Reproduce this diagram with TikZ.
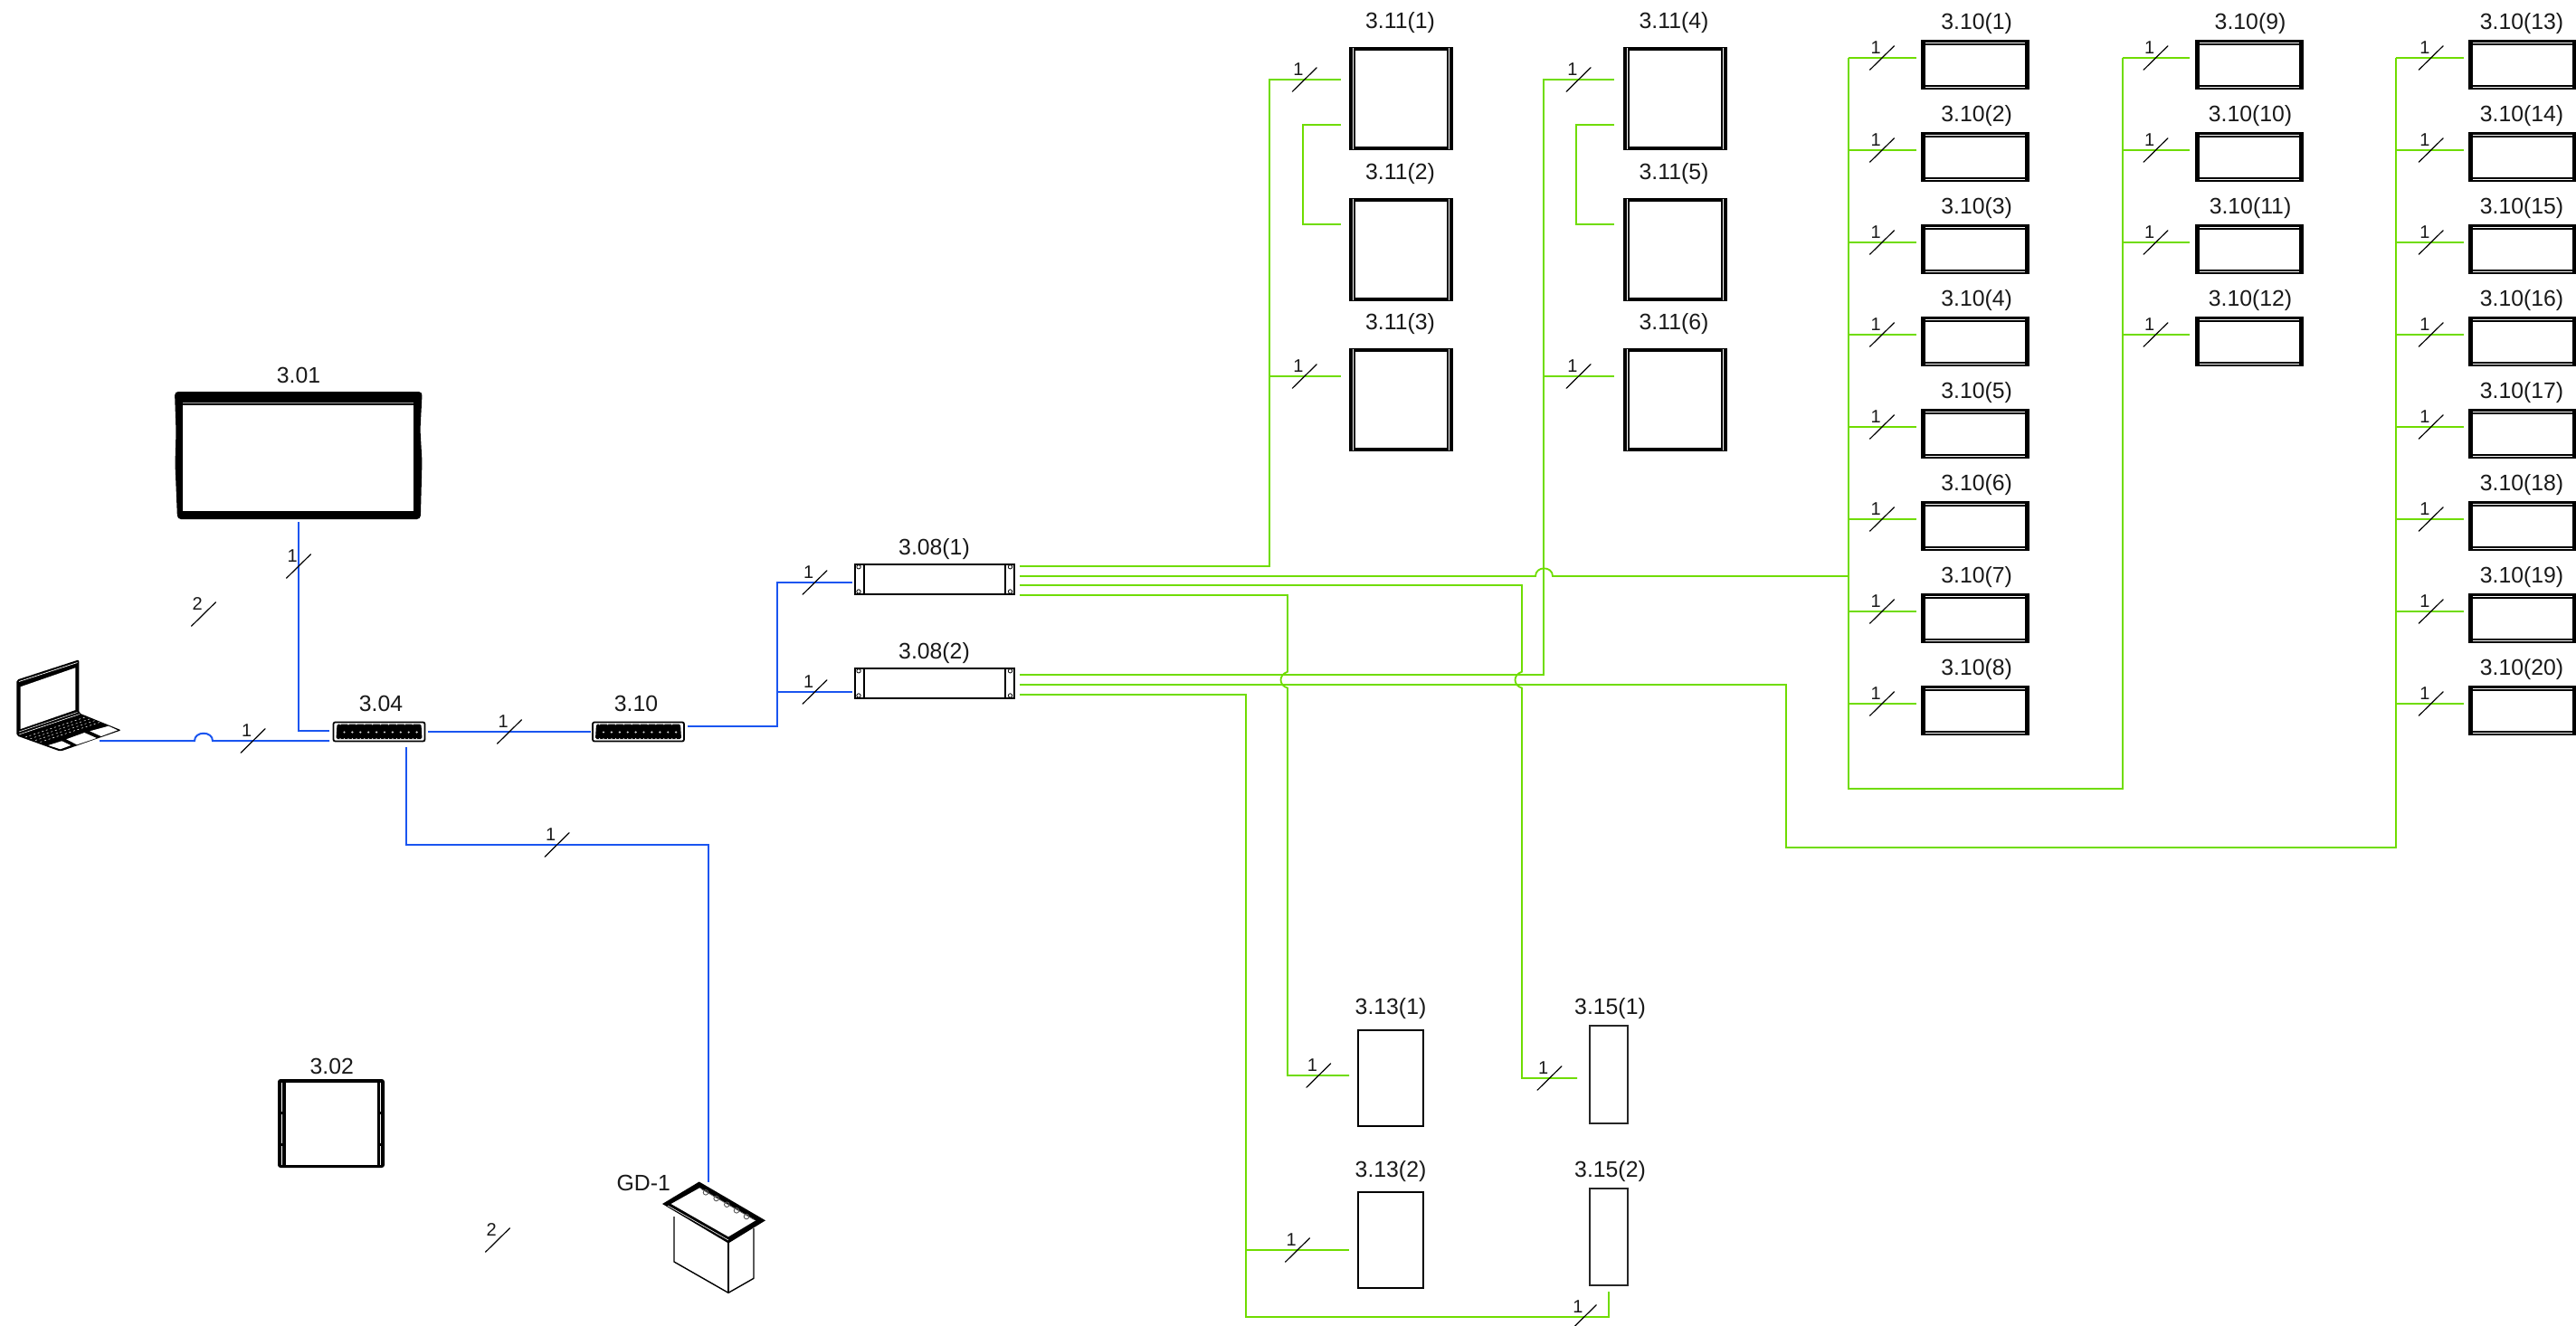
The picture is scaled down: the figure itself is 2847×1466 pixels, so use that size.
\documentclass[tikz,border=0pt]{standalone}
\usepackage{fontspec}
\setmainfont{Liberation Sans}
\usetikzlibrary{fit}
\definecolor{gline}{HTML}{6FDC00}
\definecolor{bline}{HTML}{1A55F0}
\tikzset{
  greenwire/.style={draw=gline,line width=0.9pt,line join=miter},
  bluewire/.style={draw=bline,line width=1pt,line join=miter},
  slashline/.style={draw=black,line width=0.6pt,line cap=round},
  biglab/.style={font=\fontsize{12.4}{13}\selectfont,inner sep=0pt,text=black!90},
  smalllab/.style={font=\fontsize{10}{11}\selectfont,inner sep=0pt,text=black!90},
  solidbox/.style={inner sep=0pt,fill=black},
  plainbox/.style={inner sep=0pt,draw=black,fill=white},
}
\newcounter{tk}
% slash mark with its count
\newcommand\wtick[3]{\stepcounter{tk}%
  \draw[slashline] ({#1-13.5},{#2+13.3}) -- ({#1+13.5},{#2-13.3});
  \node[smalllab] (tl\arabic{tk}) at ({#1-6.8},{#2-11.5}) {#3};}
% black solid frame with a white opening
\newcommand\blackdev[9]{%
  \node[solidbox,fit={(#2,#3)(#4,#5)}] (#1) {};
  \fill[white] (#6,#7) rectangle (#8,#9);}
% loudspeaker of the 3.10 family: number, row, bus x, stub x, tick x, box left, label x
\newcommand\tenrow[7]{%
  \pgfmathsetmacro\ry{64+102*#2}
  \pgfmathsetmacro\rt{44+102*#2}
  \pgfmathsetmacro\rb{99+102*#2}
  \pgfmathsetmacro\bl{#6}
  \pgfmathsetmacro\br{#6+120}
  \coordinate (bus#1) at (#3,\ry);
  \coordinate (end#1) at (#4,\ry);
  \draw[greenwire] (bus#1) -- (end#1);
  \wtick{#5}{\ry}{1}
  \blackdev{sp#1}{\bl}{\rt}{\br}{\rb}{\bl+5}{\rt+6}{\br-5}{\rb-5}
  \draw[white,line width=0.5pt] (\bl+5,\rt+3.5) -- (\br-5,\rt+3.5);
  \draw[white,line width=0.5pt] (\bl+5,\rb-2.5) -- (\br-5,\rb-2.5);
  \node[biglab] (lsp#1) at (#7,{\rt-18}) {3.10(#1)};}
% square loudspeaker of the 3.11 family
\newcommand\squarebox[4]{%
  \pgfmathsetmacro\st{#3}
  \pgfmathsetmacro\sb{#3+114}
  \blackdev{sq#1}{#2}{\st}{#2+115}{\sb}{#2+7}{\st+4}{#2+108}{\sb-4}
  \draw[white,line width=0.25pt] (#2+4.5,\st+1) -- (#2+4.5,\sb-1);
  \draw[white,line width=0.25pt] (#2+110.5,\st+1) -- (#2+110.5,\sb-1);
  \node[biglab] (lsq#1) at (#4,{\st-27}) {3.11(#1)};}
% amplifier 3.08
\newcommand\ampbox[3]{%
  \node[plainbox,line width=0.6pt,fit={(945,#2)(1121,#2+33)}] (#1) {};
  \draw[line width=0.9pt] (955,#2) -- (955,#2+33);
  \draw[line width=0.9pt] (1111,#2) -- (1111,#2+33);
  \foreach \sx in {949,1116.5}{
    \draw[line width=0.4pt] (\sx,#2+2.8) circle (1.1pt);
    \draw[line width=0.4pt] (\sx,#2+30) circle (1.1pt);}
  \node[biglab] (l#1) at (1032.5,#2-17.3) {#3};}
% network switch
\newcommand\switchbox[2]{%
  \node[plainbox,line width=0.9pt,rounded corners=1pt,fit={(#2,798.5)(#2+101,819.5)}] (#1) {};
  \fill[black,rounded corners=0.8pt] (#2+4,800.5) -- (#2+97,800.5) -- (#2+98,817) -- (#2+3,817) -- cycle;
  \foreach \k in {0,...,9}{
    \fill[white!85!black] ({#2+12+\k*8.9},809.5) circle (0.6pt);
    \fill[white] ({#2+12+\k*8.9},816.8) circle (0.35pt);
    \fill[white] ({#2+7.6+\k*8.9},816.8) circle (0.35pt);
    \fill[white] ({#2+7.6+\k*8.9},800.6) circle (0.45pt);}
}
\begin{document}
\begin{tikzpicture}[x=0.5pt,y=-0.5pt]
\clip (0,0) rectangle (2847,1466);
\fill[white] (0,0) rectangle (2847,1466);

% ---------- named connector ends
\coordinate (lap) at (110,819);
\coordinate (swA) at (364,819);
\coordinate (swB) at (364,808);
\coordinate (dispEnd) at (330,577);
\coordinate (swOut) at (473,809);
\coordinate (swIn) at (653,809);
\coordinate (swC) at (760,803);
\coordinate (swD) at (449,826);
\coordinate (gdEnd) at (783,1307);
\coordinate (ampIn1) at (942,644);
\coordinate (ampIn2) at (942,765);
\coordinate (o11) at (1127,626);
\coordinate (o12) at (1127,637);
\coordinate (o13) at (1127,647);
\coordinate (o14) at (1127,658);
\coordinate (o21) at (1127,746);
\coordinate (o22) at (1127,757);
\coordinate (o23) at (1127,768);
\coordinate (a1) at (1482,88);
\coordinate (a1b) at (1482,138);
\coordinate (a2) at (1482,248);
\coordinate (a3) at (1482,416);
\coordinate (b1) at (1784,88);
\coordinate (b1b) at (1784,138);
\coordinate (b2) at (1784,248);
\coordinate (b3) at (1784,416);
\coordinate (c1) at (1491,1189);
\coordinate (c2) at (1491,1382);
\coordinate (e1) at (1743,1192);
\coordinate (e2) at (1778,1428);

% ---------- blue wiring
\draw[bluewire] (lap) -- (215,819) .. controls (215,808) and (235,808) .. (235,819) -- (swA);
\draw[bluewire] (dispEnd) |- (swB);
\draw[bluewire] (swOut) -- (swIn);
\draw[bluewire] (swC) -- (859,803) -- (859,644) -- (ampIn1);
\draw[bluewire] (859,765) -- (ampIn2);
\draw[bluewire] (swD) |- (783,934) -- (gdEnd);

% ---------- green wiring
\draw[greenwire] (o11) -| (1403,88) -- (a1);
\draw[greenwire] (1403,416) -- (a3);
\draw[greenwire] (a1b) -- (1440,138) -- (1440,248) -- (a2);
\draw[greenwire] (o21) -| (1706,88) -- (b1);
\draw[greenwire] (1706,416) -- (b3);
\draw[greenwire] (b1b) -- (1742,138) -- (1742,248) -- (b2);
\draw[greenwire] (o12) -- (1697,637) .. controls (1697,625.5) and (1716,625.5) .. (1716,637) -- (2043,637);
\draw[greenwire] (2043,64) -- (2043,872) -- (2346,872) -- (2346,64);
\draw[greenwire] (o22) -- (1974,757) -- (1974,937) -- (2648,937) -- (2648,64);
\draw[greenwire] (o14) -- (1423,658) -- (1423,742.7) .. controls (1413,746) and (1413,757.5) .. (1423,760.7) -- (1423,1189) -- (c1);
\draw[greenwire] (o13) -- (1682,647) -- (1682,742.7) .. controls (1672,746) and (1672,757.5) .. (1682,760.7) -- (1682,1192) -- (e1);
\draw[greenwire] (o23) -- (1377,768) -- (1377,1456) -- (1778,1456) -- (e2);
\draw[greenwire] (1377,1382) -- (c2);

% ---------- slash marks on the wires
\wtick{330}{626}{1}
\wtick{225}{679}{2}
\wtick{279.6}{819}{1}
\wtick{563}{809}{1}
\wtick{615.6}{934}{1}
\wtick{900.5}{644}{1}
\wtick{900.5}{765}{1}
\wtick{550}{1371}{2}
\wtick{1441.8}{88}{1}
\wtick{1441.8}{416}{1}
\wtick{1744.6}{88}{1}
\wtick{1744.6}{416}{1}
\wtick{1457.3}{1189}{1}
\wtick{1712.5}{1192}{1}
\wtick{1434}{1382}{1}
\wtick{1750.8}{1456}{1}

% ---------- 3.10 rows
\foreach \n/\r in {1/0,2/1,3/2,4/3,5/4,6/5,7/6,8/7}{
  \tenrow{\n}{\r}{2043}{2118}{2080}{2123}{2184.6}}
\foreach \n/\r in {9/0,10/1,11/2,12/3}{
  \tenrow{\n}{\r}{2346}{2420}{2382.5}{2426}{2487}}
\foreach \n/\r in {13/0,14/1,15/2,16/3,17/4,18/5,19/6,20/7}{
  \tenrow{\n}{\r}{2648}{2723}{2686.7}{2728}{2787}}

% ---------- 3.11 squares
\squarebox{1}{1491}{52}{1547.5}
\squarebox{2}{1491}{219}{1547.5}
\squarebox{3}{1491}{385}{1547.5}
\squarebox{4}{1794}{52}{1850}
\squarebox{5}{1794}{219}{1850}
\squarebox{6}{1794}{385}{1850}

% ---------- 3.13 and 3.15
\node[plainbox,line width=0.9pt,fit={(1501,1139)(1573,1245)}] (sub1) {};
\node[plainbox,line width=0.9pt,fit={(1501,1318)(1573,1424)}] (sub2) {};
\node[plainbox,line width=0.9pt,draw=black!85,fit={(1757,1134)(1799,1242)}] (col1) {};
\node[plainbox,line width=0.9pt,draw=black!85,fit={(1757,1314)(1799,1421)}] (col2) {};
\node[biglab] (lsub1) at (1537,1115) {3.13(1)};
\node[biglab] (lsub2) at (1537,1295) {3.13(2)};
\node[biglab] (lcol1) at (1779.5,1115) {3.15(1)};
\node[biglab] (lcol2) at (1779.5,1295) {3.15(2)};

% ---------- 3.08 amplifiers
\ampbox{amp1}{624}{3.08(1)}
\ampbox{amp2}{739}{3.08(2)}

% ---------- switches
\switchbox{sw1}{368.5}
\switchbox{sw2}{655}
\node[biglab] (lsw1) at (421,778) {3.04};
\node[biglab] (lsw2) at (703,778) {3.10};

% ---------- 3.01 display
\fill[black,rounded corners=2pt] (193,433) -- (466.7,433) -- (464.5,475) -- (466.5,510) -- (464.8,574) -- (196,574) -- (193.5,513) -- (194.5,477) -- cycle;
\node[inner sep=0pt,fill=white,fit={(202,448)(457,565)}] (disp) {};
\draw[black!35,line width=0.5pt] (202,445.5) -- (457,445.5);
\node[biglab] (ldisp) at (330,415) {3.01};

% ---------- 3.02
\node[solidbox,rounded corners=1.5pt,fit={(307,1193)(425,1291)}] (tv) {};
\fill[white] (316,1197) rectangle (417,1288);
\draw[white,line width=0.35pt,dash pattern=on 16pt off 1.5pt] (311.5,1197) -- (311.5,1288);
\draw[white,line width=0.35pt,dash pattern=on 16pt off 1.5pt] (420.5,1197) -- (420.5,1288);
\node[biglab] (ltv) at (366.7,1179) {3.02};

% ---------- laptop
\fill[black,rounded corners=1pt] (18.3,751.7) -- (87.3,729.3) -- (87.3,788.3) -- (134,807.3) -- (66.7,830.7) -- (18.3,813.3) -- cycle;
\fill[white] (22.7,759.3) -- (83.3,738.3) -- (83.3,785) -- (22.7,806) -- cycle;
\draw[white,line width=0.35pt] (21,753.5) -- (85.5,732.5);
\draw[white,line width=0.3pt] (21,809) -- (85.5,787.5);
\draw[white,line width=0.3pt] (21,812) -- (88,789.5);
\foreach \q in {0,...,3}{
  \draw[white,line width=0.25pt,dash pattern=on 1pt off 1.4pt] ({28+\q*5.5},{815+\q*1.8}) -- ({94+\q*5.5},{793+\q*1.8});}
\fill[white] (53.3,824) -- (68.3,819.3) -- (78.3,824) -- (66.7,828.3) -- cycle;
\fill[white] (73.3,817.3) -- (93.3,810) -- (106.7,816) -- (85,823.3) -- cycle;
\fill[white] (99.3,808.3) -- (120,802.7) -- (130,807.3) -- (111.7,814) -- cycle;

% ---------- GD-1 floor box
\draw[line width=0.7pt,line join=round] (745,1345) -- (745,1395) -- (805,1429.3) -- (833,1413.3) -- (833,1358);
\draw[line width=0.9pt] (805,1374) -- (805,1429.3);
\fill[black,line join=round] (772.7,1306.5) -- (846,1349.3) -- (805,1374.5) -- (732,1331) -- cycle;
\fill[white] (773.3,1313.3) -- (835,1349.3) -- (805,1367.3) -- (741.7,1331) -- cycle;
\draw[white,line width=0.3pt] (738,1333) -- (805,1371);
\foreach \gx/\gy in {780/1318.3,791.7/1325,803.3/1331.7,814/1338.3,825/1345}{
  \draw[black!65,line width=0.45pt] (\gx,\gy) circle (1.4pt);}
\draw[black!65,line width=0.35pt] (775,1314.5) -- (834,1348.8);
\node[biglab] (lgd) at (711.3,1308.3) {GD-1};
\end{tikzpicture}
\end{document}
